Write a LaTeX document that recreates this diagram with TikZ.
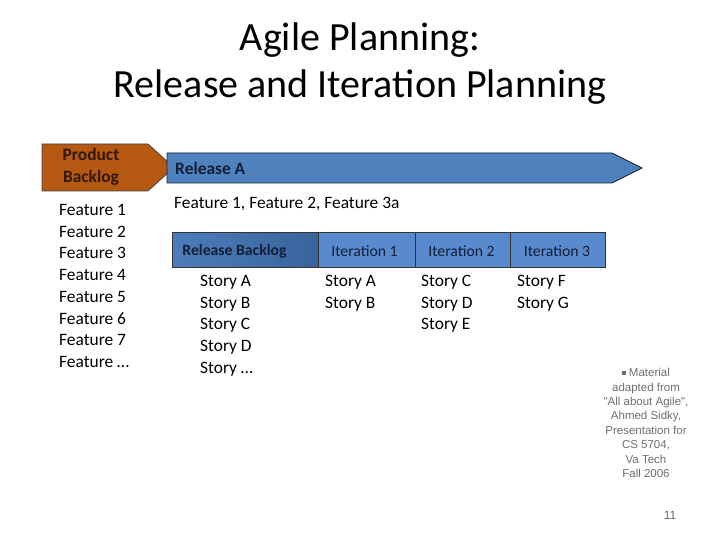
\documentclass[tikz,border=0pt]{standalone}
\usepackage{fontspec}
\setmainfont{Carlito}
\newfontfamily\arialf{Liberation Sans}
\definecolor{pbrown}{RGB}{180,88,18}
\definecolor{relblue}{RGB}{79,129,189}
\definecolor{itblue}{RGB}{88,138,205}
\definecolor{rbleft}{RGB}{76,125,186}
\definecolor{rbright}{RGB}{56,100,156}
\definecolor{darktxt}{RGB}{20,30,55}
\definecolor{browntxt}{RGB}{50,25,5}
\definecolor{notegray}{RGB}{110,110,110}
\tikzset{
  title/.style={font=\fontsize{40}{47}\selectfont, inner sep=0pt},
  body/.style={font=\fontsize{17.4}{21.7}\selectfont, inner sep=0pt, anchor=west},
  celltxt/.style={font=\fontsize{15.7}{19}\selectfont, text=darktxt, inner sep=0pt},
  cellbox/.style={draw=black!80, line width=0.7pt},
}
\begin{document}
\begin{tikzpicture}[x=1pt,y=-1pt]
\useasboundingbox (0,0) rectangle (720,540);
% title
\node[title] (t1) at (360,40) {Agile Planning:};
\node[title] (t2) at (360,87) {Release and Iteration Planning};
% product backlog pentagon
\draw[fill=pbrown, draw=black!75, line width=0.7pt] (42,144) -- (148,144) -- (174,167.5) -- (148,191) -- (42,191) -- cycle;
\node[font=\bfseries\fontsize{17.4}{21.7}\selectfont, text=browntxt, align=center, inner sep=0pt] (pb) at (91,167) {Product\\Backlog};
% release arrow
\draw[fill=relblue, draw=darktxt, line width=0.7pt] (167,153) -- (612,153) -- (642,168) -- (612,183) -- (167,183) -- cycle;
\node[body, font=\bfseries\fontsize{17.4}{21.7}\selectfont, text=darktxt] (ra) at (175,168) {Release A};
% feature list
\foreach \t [count=\i] in {Feature 1,Feature 2,Feature 3,Feature 4,Feature 5,Feature 6,Feature 7,Feature \dots}
  \node[body] (f\i) at (59,{210+21.7*(\i-1)}) {\t};
\node[body] (feat) at (174,203.5) {Feature 1, Feature 2, Feature 3a};
% iteration row
\shade[left color=rbleft, right color=rbright] (172,232) rectangle (318,267);
\draw[cellbox] (172,232) rectangle (318,267);
\draw[cellbox, fill=itblue] (318,232) rectangle (415,267);
\draw[cellbox, fill=itblue] (415,232) rectangle (510,267);
\draw[cellbox, fill=itblue] (510,232) rectangle (605,267);
\node[celltxt, font=\bfseries\fontsize{15.7}{19}\selectfont] (rb) at (234.5,251) {Release Backlog};
\node[celltxt] (i1) at (364.5,251) {Iteration 1};
\node[celltxt] (i2) at (461.5,251) {Iteration 2};
\node[celltxt] (i3) at (557,251) {Iteration 3};
% stories
\foreach \t [count=\i] in {Story A,Story B,Story C,Story D,Story \dots}
  \node[body] (sa\i) at (200,{282.5+21.6*(\i-1)}) {\t};
\foreach \t [count=\i] in {Story A,Story B}
  \node[body] (sb\i) at (325,{282.5+21.6*(\i-1)}) {\t};
\foreach \t [count=\i] in {Story C,Story D,Story E}
  \node[body] (sc\i) at (421,{282.5+21.6*(\i-1)}) {\t};
\foreach \t [count=\i] in {Story F,Story G}
  \node[body] (sd\i) at (517,{282.5+21.6*(\i-1)}) {\t};
% note
\node[font=\arialf\fontsize{11.5}{14.4}\selectfont, text=notegray, align=center, inner sep=0pt] (note) at (646,423)
  {\raisebox{2pt}{\rule{3.6pt}{3.6pt}} Material\\adapted from\\"All about Agile",\\Ahmed Sidky,\\Presentation for\\CS 5704,\\Va Tech\\Fall 2006};
\node[font=\arialf\fontsize{12}{14}\selectfont, text=notegray, inner sep=0pt] (pg) at (670,515) {11};
\end{tikzpicture}
\end{document}
